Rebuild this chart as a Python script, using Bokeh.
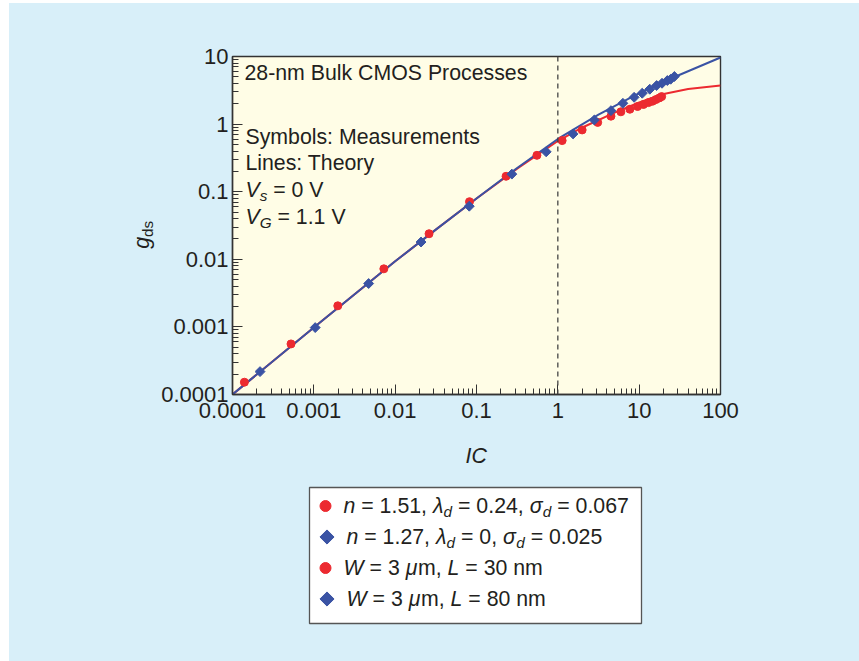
import math
from bokeh.plotting import figure
from bokeh.models import Label, Span, FixedTicker, CustomJSTickFormatter, Spacer
from bokeh.layouts import column, row
from bokeh.embed import file_html
from bokeh.resources import INLINE

# ---------------- data ----------------
RED_IC = [1.40e-4, 5.24e-4, 1.97e-3, 7.26e-3, 0.0261, 0.0820, 0.231, 0.553, 1.13, 1.99,
          3.09, 4.50, 5.96, 7.69, 9.55, 11.3, 13.0, 14.6, 16.1, 17.7, 18.9]
RED_GDS = [1.52e-4, 5.60e-4, 2.05e-3, 7.23e-3, 0.0239, 0.0711, 0.169, 0.345, 0.570, 0.820,
           1.06, 1.31, 1.52, 1.66, 1.82, 1.95, 2.08, 2.18, 2.31, 2.44, 2.55]
BLUE_IC = [2.18e-4, 1.04e-3, 4.72e-3, 0.0208, 0.0815, 0.272, 0.719, 1.54, 2.81, 4.50,
           6.31, 8.67, 10.9, 13.5, 16.4, 19.1, 22.2, 24.4, 27.1]
BLUE_GDS = [2.18e-4, 9.77e-4, 4.38e-3, 0.0180, 0.0610, 0.182, 0.389, 0.716, 1.15, 1.58,
            2.03, 2.49, 2.86, 3.28, 3.72, 4.02, 4.41, 4.61, 5.06]
BLUE_TH_IC = [1e-4, 1e-3, 1e-2, 0.0316, 0.1, 0.316, 1, 3.16, 10, 31.6, 100]
BLUE_TH_GDS = [1e-4, 9.77e-4, 9.33e-3, 0.0275, 0.0794, 0.224, 0.603, 1.38, 2.88, 5.37, 9.66]
RED_TH_IC = [1e-4, 1e-3, 1e-2, 0.0316, 0.1, 0.316, 1, 2, 5, 10, 20, 40, 100]
RED_TH_GDS = [1e-4, 9.77e-4, 9.33e-3, 0.0275, 0.0794, 0.219, 0.562, 0.891, 1.48, 2.09, 2.79, 3.31, 3.72]
X_TICKS = [0.0001, 0.001, 0.01, 0.1, 1, 10, 100]
Y_TICKS = [0.0001, 0.001, 0.01, 0.1, 1, 10]

RED = "#ec2a30"
BLUE = "#3a53a4"
INK = "#231f20"
FONT = "Liberation Sans"
PANEL = "#d8eff9"
FRAME_BG = "#fffde6"
TXT = 21.3
BASE_FIX = 8  # empirical baseline correction (px)

def bare(w, h, xr, yr):
    f = figure(width=w, height=h, x_range=xr, y_range=yr, output_backend="svg",
               toolbar_location=None, min_border=0, x_axis_location=None,
               y_axis_location=None, background_fill_color=PANEL, border_fill_color=PANEL)
    f.outline_line_color = None
    f.grid.visible = False
    return f

# ---------------- main chart ----------------
p = figure(width=701, height=427, x_axis_type="log", y_axis_type="log",
           x_range=(1e-4, 100), y_range=(1e-4, 10),
           output_backend="svg", toolbar_location=None,
           min_border_left=72, min_border_right=139, min_border_top=53, min_border_bottom=36,
           background_fill_color=FRAME_BG, border_fill_color=PANEL)
p.outline_line_color = "#333333"
p.outline_line_width = 1.4
p.grid.visible = False

def minor(ticks):
    out = []
    for t in ticks[:-1]:
        out += [t * k for k in range(2, 10)]
    return out

for ax, ticks in ((p.xaxis[0], X_TICKS), (p.yaxis[0], Y_TICKS)):
    ax.ticker = FixedTicker(ticks=ticks, minor_ticks=minor(ticks))
    ax.formatter = CustomJSTickFormatter(code="return tick.toString();")
    ax.major_tick_in = 10
    ax.major_tick_out = 0
    ax.minor_tick_in = 6
    ax.minor_tick_out = 0
    ax.axis_line_color = "#333333"
    ax.axis_line_width = 1.4
    ax.major_tick_line_color = "#333333"
    ax.minor_tick_line_color = "#333333"
    ax.major_label_text_font = FONT
    ax.major_label_text_font_size = "22px"
    ax.major_label_text_color = INK
p.xaxis.major_label_standoff = 8
p.yaxis.major_label_standoff = 4

def to_data(X, Y):
    return 10 ** (-4 + (X - 230) * 6 / 490), 10 ** (-4 + (394 - Y) * 5 / 338)

p.add_layout(Span(location=1, dimension="height", line_color="#444444",
                  line_dash="5 4", line_width=1.3))

p.line(RED_TH_IC, RED_TH_GDS, line_color=RED, line_width=2)
p.line(BLUE_TH_IC, BLUE_TH_GDS, line_color=BLUE, line_width=2)
p.scatter(RED_IC, RED_GDS, marker="circle", size=8, fill_color=RED, line_color=RED)
p.scatter(BLUE_IC, BLUE_GDS, marker="square", angle=math.pi / 4, size=7,
          fill_color=BLUE, line_color=BLUE)

W = {' ': 278, ',': 278, '-': 333, '.': 278, ':': 278, '=': 584,
     'A': 667, 'B': 667, 'C': 722, 'G': 778, 'I': 278, 'L': 556, 'M': 833, 'O': 778,
     'P': 667, 'S': 667, 'T': 611, 'V': 667, 'W': 944,
     'a': 556, 'b': 556, 'c': 500, 'd': 556, 'e': 556, 'g': 556, 'h': 556, 'i': 222,
     'k': 500, 'l': 222, 'm': 833, 'n': 556, 'o': 556, 'r': 333, 's': 500, 't': 278,
     'u': 556, 'y': 500, 'λ': 500, 'σ': 617, 'μ': 576}

def tw(s, fs):
    return sum(W.get(c, 556) for c in s) * fs / 1000

def rich(fig, tf, X, Y, segs, size=TXT, angle=0.0):
    x, y = tf(X, Y)
    off = 0.0
    for text, st in segs:
        sub = "sub" in st
        fs = size * 0.72 if sub else size
        shift = size * 0.27 if sub else 0.0
        core = text.strip(" ")
        lead = len(text) - len(text.lstrip(" "))
        off += tw(" " * lead, fs)
        if angle == 0:
            xo, yo = off, -shift + BASE_FIX
        else:
            xo, yo = shift - BASE_FIX, off
        fig.add_layout(Label(x=x, y=y, x_offset=xo, y_offset=yo, text=core, angle=angle,
                             text_font=FONT, text_font_size=f"{fs:.1f}px",
                             text_font_style="italic" if st.endswith("i") else "normal",
                             text_baseline="alphabetic", text_align="left", text_color=INK))
        off += tw(text.lstrip(" "), fs)

rich(p, to_data, 242, 80, [("28-nm Bulk CMOS Processes", "n")])
rich(p, to_data, 243, 144, [("Symbols: Measurements", "n")])
rich(p, to_data, 243, 170, [("Lines: Theory", "n")])
rich(p, to_data, 243, 197, [("V", "i"), ("s", "subi"), (" = 0 V", "n")])
rich(p, to_data, 243, 224, [("V", "i"), ("G", "subi"), (" = 1.1 V", "n")])

# ---------------- y-axis title panel ----------------
yl = bare(149, 427, (0, 149), (0, 427))
rich(yl, lambda X, Y: (X - 9, 430 - Y), 149, 246, [("g", "i"), ("ds", "sub")], angle=math.pi / 2)

# ---------------- lower panel: x title and legend ----------------
bt = bare(850, 231, (0, 850), (0, 231))
btf = lambda X, Y: (X - 9, 661 - Y)
rich(bt, btf, 465, 463, [("IC", "i")])

L, R, T, B = btf(309, 487)[0], btf(641, 487)[0], btf(309, 487)[1], btf(309, 623)[1]
bt.quad(left=L, right=R, top=T, bottom=B, fill_color="white", line_color="#555555", line_width=1.3)
cx, cy1 = btf(325, 505.5)
_, cy3 = btf(325, 567.5)
dx, cy2 = btf(326.5, 536.5)
_, cy4 = btf(326.5, 598.5)
bt.scatter([cx, cx], [cy1, cy3], marker="circle", size=11, fill_color=RED, line_color=RED)
bt.scatter([dx, dx], [cy2, cy4], marker="square", angle=math.pi / 4, size=10,
           fill_color=BLUE, line_color=BLUE)

rich(bt, btf, 343, 513, [("n", "i"), (" = 1.51, ", "n"), ("λ", "i"), ("d", "subi"), (" = 0.24, ", "n"),
                         ("σ", "i"), ("d", "subi"), (" = 0.067", "n")])
rich(bt, btf, 346, 544, [("n", "i"), (" = 1.27, ", "n"), ("λ", "i"), ("d", "subi"), (" = 0, ", "n"),
                         ("σ", "i"), ("d", "subi"), (" = 0.025", "n")])
rich(bt, btf, 343, 575, [("W", "i"), (" = 3 ", "n"), ("μ", "i"), ("m, ", "n"), ("L", "i"), (" = 30 nm", "n")])
rich(bt, btf, 346, 606, [("W", "i"), (" = 3 ", "n"), ("μ", "i"), ("m, ", "n"), ("L", "i"), (" = 80 nm", "n")])

inner = column(row(yl, p, styles={"background-color": PANEL}), bt,
               styles={"background-color": PANEL})
layout = column(Spacer(height=3), row(Spacer(width=9), inner))
open("out.html", "w").write(file_html(layout, INLINE))
